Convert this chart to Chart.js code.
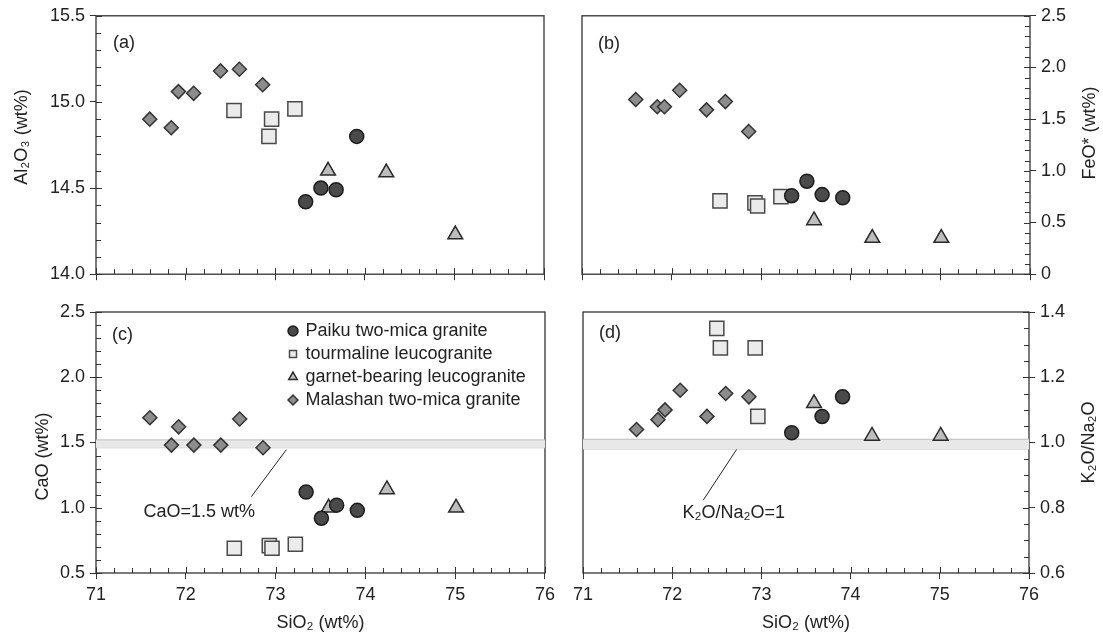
<!DOCTYPE html>
<html>
<head>
<meta charset="utf-8">
<script src="https://cdn.jsdelivr.net/npm/chart.js@4/dist/chart.umd.min.js"></script>
<style>
html,body{margin:0;padding:0;background:#fff;}
#wrap{position:relative;width:1103px;height:639px;overflow:hidden;background:#fff;}
canvas{position:absolute;display:block;}
</style>
</head>
<body>
<div id="wrap">
<canvas id="pa" width="560" height="290" style="left:0;top:0;width:560px;height:290px"></canvas>
<canvas id="pb" width="543" height="290" style="left:560px;top:0;width:543px;height:290px"></canvas>
<canvas id="pc" width="560" height="349" style="left:0;top:290px;width:560px;height:349px"></canvas>
<canvas id="pd" width="543" height="349" style="left:560px;top:290px;width:543px;height:349px"></canvas>
</div>
<script>
// ---------------- data ----------------
const seriesNames = ['Paiku two-mica granite', 'tourmaline leucogranite', 'garnet-bearing leucogranite', 'Malashan two-mica granite'];

const paikuSiO2   = [73.34, 73.51, 73.68, 73.91];
const paikuAl2O3  = [14.42, 14.50, 14.49, 14.80];
const paikuFeO    = [0.76, 0.90, 0.77, 0.74];
const paikuCaO    = [1.12, 0.92, 1.02, 0.98];
const paikuK2ONa2O = [1.03, null, 1.08, 1.14];

const tourSiO2    = [72.54, 72.93, 72.96, 73.22, 72.50];
const tourAl2O3   = [14.95, 14.80, 14.90, 14.96, null];
const tourFeO     = [0.71, 0.69, 0.66, 0.75, null];
const tourCaO     = [0.69, 0.71, 0.69, 0.72, null];
const tourK2ONa2O = [1.29, 1.29, 1.08, null, 1.35];

const garnetSiO2    = [73.59, 74.24, 75.01];
const garnetAl2O3   = [14.60, 14.59, 14.23];
const garnetFeO     = [0.52, 0.35, 0.35];
const garnetCaO     = [1.00, 1.14, 1.00];
const garnetK2ONa2O = [1.12, 1.02, 1.02];

const malaSiO2    = [71.60, 71.84, 71.92, 72.09, 72.39, 72.60, 72.86];
const malaAl2O3   = [14.90, 14.85, 15.06, 15.05, 15.18, 15.19, 15.10];
const malaFeO     = [1.69, 1.62, 1.62, 1.78, 1.59, 1.67, 1.38];
const malaCaO     = [1.69, 1.48, 1.62, 1.48, 1.48, 1.68, 1.46];
const malaK2ONa2O = [1.04, 1.07, 1.10, 1.16, 1.08, 1.15, 1.14];

// reference bands and leader lines
const bandSiO2 = [71, 76];
const caoBand = [1.52, 1.46];
const ratioBand = [1.01, 0.98];
const caoLeaderSiO2 = [73.12, 72.73];
const caoLeaderY = [1.445, 1.085];
const ratioLeaderSiO2 = [72.73, 72.35];
const ratioLeaderY = [0.982, 0.824];
const caoNoteAt = [72.15, 0.967];
const ratioNoteAt = [72.69, 0.785];

// ticks
const siO2Ticks = [71, 72, 73, 74, 75, 76];
const siO2TickLabels = ['71', '72', '73', '74', '75', '76'];
const al2o3Ticks = [14.0, 14.5, 15.0, 15.5];
const al2o3TickLabels = ['14.0', '14.5', '15.0', '15.5'];
const feoTicks = [0, 0.5, 1.0, 1.5, 2.0, 2.5];
const feoTickLabels = ['0', '0.5', '1.0', '1.5', '2.0', '2.5'];
const caoTicks = [0.5, 1.0, 1.5, 2.0, 2.5];
const caoTickLabels = ['0.5', '1.0', '1.5', '2.0', '2.5'];
const ratioTicks = [0.6, 0.8, 1.0, 1.2, 1.4];
const ratioTickLabels = ['0.6', '0.8', '1.0', '1.2', '1.4'];

// ---------------- styling ----------------
const FONT = "'Liberation Sans', Arial, Helvetica, sans-serif";
const FS = 18;
Chart.defaults.font.family = FONT;
Chart.defaults.font.size = FS;
Chart.defaults.color = '#222';

const markerStyles = [
  {pointStyle: 'circle',   radius: 7,   bg: '#4a4a4a', border: '#1c1c1c'},
  {pointStyle: 'rect',     radius: 10,  bg: '#ebebeb', border: '#4a4a4a'},
  {pointStyle: 'triangle', radius: 8.5, bg: '#bdbdbd', border: '#2a2a2a'},
  {pointStyle: 'rectRot',  radius: 7,   bg: '#8c8c8c', border: '#333333'}
];

function pts(xs, ys) {
  const out = [];
  xs.forEach((x, i) => { if (ys[i] !== null && ys[i] !== undefined) out.push({x: x, y: ys[i]}); });
  return out;
}

const decorPlugin = {
  id: 'decor',
  afterLayout(chart, args, o) {
    if (o.legendAt && chart.legend) {
      const lg = chart.legend, ca = chart.chartArea;
      const w = lg.width, h = lg.height;
      lg.left = ca.left + o.legendAt[0];
      lg.top = ca.top + o.legendAt[1];
      lg.right = lg.left + w;
      lg.bottom = lg.top + h;
    }
  },
  beforeDatasetsDraw(chart, args, o) {
    const ctx = chart.ctx, ca = chart.chartArea;
    const xs = chart.scales.x, ys = chart.scales.y;
    ctx.save();
    ctx.strokeStyle = '#333';
    ctx.lineWidth = 1;
    ctx.beginPath();
    let n = Math.round((xs.max - xs.min) / o.xMinor);
    for (let i = 0; i <= n; i++) {
      const v = xs.min + i * o.xMinor;
      const major = Math.abs(v / o.xMajor - Math.round(v / o.xMajor)) < 1e-6;
      const px = Math.round(xs.getPixelForValue(v)) + 0.5;
      ctx.moveTo(px, ca.bottom);
      ctx.lineTo(px, ca.bottom - (major ? 6 : 5));
    }
    n = Math.round((ys.max - ys.min) / o.yMinor);
    for (let i = 0; i <= n; i++) {
      const v = ys.min + i * o.yMinor;
      const major = Math.abs(v / o.yMajor - Math.round(v / o.yMajor)) < 1e-6;
      const py = Math.round(ys.getPixelForValue(v)) + 0.5;
      const len = major ? 6 : 5;
      if (o.ySide === 'left') { ctx.moveTo(ca.left, py); ctx.lineTo(ca.left + len, py); }
      else { ctx.moveTo(ca.right, py); ctx.lineTo(ca.right - len, py); }
    }
    ctx.stroke();
    ctx.lineWidth = 1.3;
    ctx.strokeStyle = '#333';
    ctx.strokeRect(ca.left, ca.top, ca.right - ca.left, ca.bottom - ca.top);
    ctx.restore();
  },
  afterDraw(chart, args, o) {
    const ctx = chart.ctx, ca = chart.chartArea;
    ctx.save();
    ctx.fillStyle = '#222';
    ctx.font = FS + 'px ' + FONT;
    ctx.textAlign = 'left';
    ctx.textBaseline = 'middle';
    ctx.fillText(o.label, ca.left + o.labelAt[0], ca.top + o.labelAt[1]);
    if (o.note) {
      const x = chart.scales.x.getPixelForValue(o.note.at[0]);
      const y = chart.scales.y.getPixelForValue(o.note.at[1]);
      ctx.textAlign = 'center';
      ctx.fillText(o.note.text, x, y);
    }
    const tx = o.ySide === 'left' ? ca.left + o.yTitleDX : ca.right + o.yTitleDX;
    const ty = (ca.top + ca.bottom) / 2 + o.yTitleDY;
    ctx.translate(tx, ty);
    ctx.rotate(-Math.PI / 2);
    ctx.textAlign = 'center';
    ctx.fillText(o.yTitle, 0, 0);
    ctx.restore();
  }
};

function makePanel(id, c) {
  const datasets = [];
  c.series.forEach((s, i) => {
    const st = markerStyles[i];
    datasets.push({
      label: seriesNames[i],
      data: pts(s[0], s[1]),
      pointStyle: st.pointStyle,
      pointRadius: st.radius,
      pointHoverRadius: st.radius,
      backgroundColor: st.bg,
      borderColor: st.border,
      borderWidth: 1.5
    });
  });
  if (c.band) {
    datasets.push({
      type: 'line', label: 'band-hi', showLine: true,
      data: pts(bandSiO2, [c.band[0], c.band[0]]),
      borderColor: '#bdbdbd', borderWidth: 1, backgroundColor: '#e8e8e8',
      fill: '+1', pointRadius: 0
    });
    datasets.push({
      type: 'line', label: 'band-lo', showLine: true,
      data: pts(bandSiO2, [c.band[1], c.band[1]]),
      borderColor: '#bdbdbd', borderWidth: 1, fill: false, pointRadius: 0
    });
  }
  if (c.leader) {
    datasets.push({
      type: 'line', label: 'leader', showLine: true,
      data: pts(c.leader[0], c.leader[1]),
      borderColor: '#222', borderWidth: 1, fill: false, pointRadius: 0
    });
  }
  return new Chart(document.getElementById(id), {
    type: 'scatter',
    data: {datasets: datasets},
    plugins: [decorPlugin],
    options: {
      responsive: false,
      maintainAspectRatio: false,
      animation: false,
      events: [],
      layout: {padding: c.padding},
      scales: {
        x: {
          type: 'linear', position: 'bottom', min: 71, max: 76,
          afterBuildTicks: s => { s.ticks = siO2Ticks.map(v => ({value: v})); },
          ticks: {display: c.xLabels, autoSkip: false, maxRotation: 0, padding: 5, color: '#222',
                  callback: (v, i) => siO2TickLabels[i]},
          grid: {display: true, drawOnChartArea: false, drawTicks: true, tickLength: 6, color: '#333', lineWidth: 1},
          border: {display: false},
          title: {display: c.xLabels, text: 'SiO₂ (wt%)', color: '#222', padding: {top: 0, bottom: 5}},
          afterFit: s => { s.height = c.xHeight; }
        },
        y: {
          type: 'linear', position: c.ySide, min: c.yMin, max: c.yMax,
          afterBuildTicks: s => { s.ticks = c.yTicks.map(v => ({value: v})); },
          ticks: {autoSkip: false, padding: 5, color: '#222', callback: (v, i) => c.yTickLabels[i]},
          grid: {display: true, drawOnChartArea: false, drawTicks: true, tickLength: 6, color: '#333', lineWidth: 1},
          border: {display: false},
          title: {display: false},
          afterFit: s => { s.width = c.yWidth; }
        }
      },
      plugins: {
        legend: c.legend ? {
          display: true, position: 'chartArea', align: 'start',
          labels: {usePointStyle: true, boxWidth: 7, boxHeight: 7, padding: 5, color: '#222',
                   font: {size: FS}, filter: it => it.datasetIndex < 4}
        } : {display: false},
        tooltip: {enabled: false},
        decor: {
          label: c.label, labelAt: c.labelAt, ySide: c.ySide,
          xMajor: 1, xMinor: 0.2, yMajor: c.yMajor, yMinor: c.yMinor,
          yTitle: c.yTitle, yTitleDX: c.yTitleDX, yTitleDY: c.yTitleDY,
          note: c.note || null, legendAt: c.legend ? c.legendAt : null
        }
      }
    }
  });
}

makePanel('pa', {
  series: [[paikuSiO2, paikuAl2O3], [tourSiO2, tourAl2O3], [garnetSiO2, garnetAl2O3], [malaSiO2, malaAl2O3]],
  padding: {top: 15, right: 16, bottom: 0, left: 0},
  xLabels: false, xHeight: 12, ySide: 'left', yWidth: 96,
  yMin: 14.0, yMax: 15.5, yMajor: 0.5, yMinor: 0.1, yTicks: al2o3Ticks, yTickLabels: al2o3TickLabels,
  yTitle: 'Al₂O₃ (wt%)', yTitleDX: -74, yTitleDY: -8,
  label: '(a)', labelAt: [17, 27]
});

makePanel('pb', {
  series: [[paikuSiO2, paikuFeO], [tourSiO2, tourFeO], [garnetSiO2, garnetFeO], [malaSiO2, malaFeO]],
  padding: {top: 15, right: 0, bottom: 0, left: 22},
  xLabels: false, xHeight: 12, ySide: 'right', yWidth: 73,
  yMin: 0, yMax: 2.5, yMajor: 0.5, yMinor: 0.1, yTicks: feoTicks, yTickLabels: feoTickLabels,
  yTitle: 'FeO* (wt%)', yTitleDX: 60, yTitleDY: -12,
  label: '(b)', labelAt: [16, 28]
});

makePanel('pc', {
  series: [[paikuSiO2, paikuCaO], [tourSiO2, tourCaO], [garnetSiO2, garnetCaO], [malaSiO2, malaCaO]],
  padding: {top: 22, right: 15, bottom: 0, left: 0},
  xLabels: true, xHeight: 66, ySide: 'left', yWidth: 96,
  yMin: 0.5, yMax: 2.5, yMajor: 0.5, yMinor: 0.1, yTicks: caoTicks, yTickLabels: caoTickLabels,
  yTitle: 'CaO (wt%)', yTitleDX: -53, yTitleDY: 14,
  label: '(c)', labelAt: [16, 23],
  band: caoBand, leader: [caoLeaderSiO2, caoLeaderY],
  note: {text: 'CaO=1.5 wt%', at: caoNoteAt},
  legend: true, legendAt: [188.5, 5]
});

makePanel('pd', {
  series: [[paikuSiO2, paikuK2ONa2O], [tourSiO2, tourK2ONa2O], [garnetSiO2, garnetK2ONa2O], [malaSiO2, malaK2ONa2O]],
  padding: {top: 22, right: 0, bottom: 0, left: 23},
  xLabels: true, xHeight: 66, ySide: 'right', yWidth: 74,
  yMin: 0.6, yMax: 1.4, yMajor: 0.2, yMinor: 0.05, yTicks: ratioTicks, yTickLabels: ratioTickLabels,
  yTitle: 'K₂O/Na₂O', yTitleDX: 60, yTitleDY: 0,
  label: '(d)', labelAt: [16, 21],
  band: ratioBand, leader: [ratioLeaderSiO2, ratioLeaderY],
  note: {text: 'K₂O/Na₂O=1', at: ratioNoteAt}
});
</script>
</body>
</html>
